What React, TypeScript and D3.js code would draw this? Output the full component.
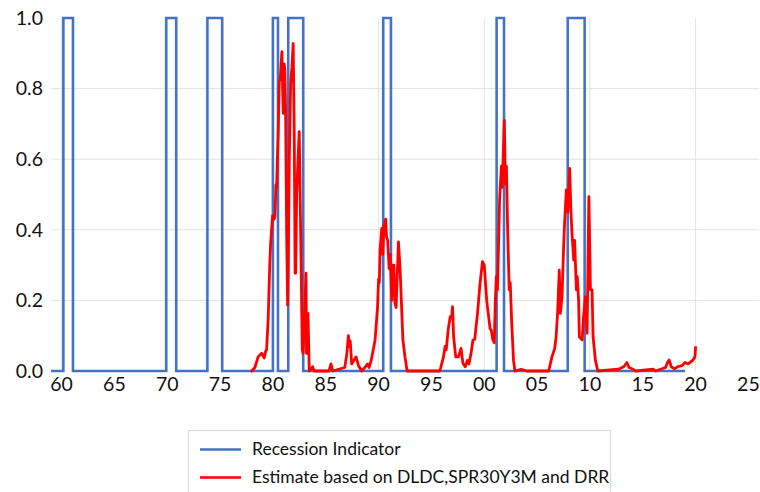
import React from 'react';
import { scaleLinear, line, curveStepAfter, curveLinear, range } from 'd3';

// recession periods, decimal years (start, end)
const recessionStarts = [1960.17, 1969.9, 1973.8, 1980.0, 1981.45, 1990.44, 2001.17, 2007.9];
const recessionEnds = [1961.08, 1970.85, 1975.2, 1980.48, 1982.87, 1991.17, 2001.87, 2009.5];
const seriesStart = 1959.0;
const seriesEnd = 2019.0;

// estimate series [decimal year, probability]
const estimate: [number, number][] = [
  [1977.9, 0], [1978.0, 0], [1978.3, 0.01], [1978.6, 0.04], [1978.93, 0.05], [1979.05, 0.045],
  [1979.18, 0.037], [1979.3, 0.055], [1979.4, 0.06], [1979.55, 0.145], [1979.7, 0.3], [1979.78, 0.36],
  [1979.97, 0.44], [1980.05, 0.44], [1980.12, 0.43], [1980.2, 0.44], [1980.28, 0.527], [1980.35, 0.52],
  [1980.42, 0.6], [1980.5, 0.67], [1980.6, 0.82], [1980.7, 0.83], [1980.85, 0.905], [1980.92, 0.8],
  [1980.98, 0.73], [1981.07, 0.87], [1981.13, 0.85], [1981.2, 0.74], [1981.3, 0.39], [1981.39, 0.187],
  [1981.45, 0.3], [1981.55, 0.6], [1981.68, 0.815], [1981.8, 0.86], [1981.92, 0.928], [1982.02, 0.67],
  [1982.1, 0.277], [1982.15, 0.277], [1982.25, 0.5], [1982.34, 0.57], [1982.49, 0.678], [1982.6, 0.45],
  [1982.78, 0.06], [1982.85, 0.05], [1982.94, 0.1], [1983.05, 0.2], [1983.13, 0.277], [1983.18, 0.05],
  [1983.22, 0.09], [1983.32, 0.163], [1983.44, 0], [1983.6, 0.005], [1983.76, 0.012], [1983.9, 0],
  [1985.3, 0], [1985.5, 0.02], [1985.65, 0], [1986.8, 0.01], [1987.0, 0.05], [1987.14, 0.1],
  [1987.25, 0.07], [1987.32, 0.085], [1987.45, 0.02], [1987.65, 0.03], [1987.87, 0.04], [1988.1, 0.015],
  [1988.4, 0], [1988.7, 0.01], [1988.95, 0.02], [1989.1, 0.01], [1989.3, 0.03], [1989.67, 0.088],
  [1989.9, 0.18], [1990.0, 0.26], [1990.07, 0.25], [1990.14, 0.343], [1990.3, 0.404], [1990.4, 0.33],
  [1990.5, 0.41], [1990.67, 0.43], [1990.75, 0.38], [1990.86, 0.37], [1991.0, 0.29], [1991.1, 0.33],
  [1991.25, 0.2], [1991.35, 0.3], [1991.45, 0.3], [1991.55, 0.19], [1991.66, 0.18], [1991.88, 0.366],
  [1992.04, 0.286], [1992.3, 0.088], [1992.5, 0.04], [1992.7, 0], [1995.8, 0], [1996.14, 0.04],
  [1996.3, 0.07], [1996.4, 0.06], [1996.6, 0.12], [1996.78, 0.154], [1996.9, 0.15], [1997.0, 0.182],
  [1997.1, 0.097], [1997.3, 0.04], [1997.56, 0.04], [1997.8, 0.064], [1997.98, 0.022], [1998.2, 0.012],
  [1998.4, 0.03], [1998.55, 0.02], [1998.75, 0.05], [1998.93, 0.088], [1999.1, 0.09], [1999.36, 0.163],
  [1999.6, 0.248], [1999.83, 0.31], [2000.0, 0.3], [2000.23, 0.2], [2000.45, 0.145], [2000.55, 0.12],
  [2000.66, 0.116], [2000.8, 0.09], [2000.95, 0.08], [2001.05, 0.2], [2001.14, 0.267], [2001.25, 0.23],
  [2001.45, 0.484], [2001.62, 0.58], [2001.7, 0.52], [2001.9, 0.71], [2002.0, 0.53], [2002.1, 0.58],
  [2002.2, 0.42], [2002.36, 0.23], [2002.46, 0.25], [2002.6, 0.135], [2002.77, 0.03], [2002.9, 0],
  [2003.5, 0.005], [2004.0, 0], [2006.1, 0], [2006.4, 0.04], [2006.67, 0.064], [2006.8, 0.097],
  [2006.95, 0.17], [2007.1, 0.286], [2007.2, 0.163], [2007.36, 0.21], [2007.5, 0.343], [2007.6, 0.418],
  [2007.77, 0.513], [2007.9, 0.45], [2008.08, 0.574], [2008.2, 0.456], [2008.3, 0.39], [2008.47, 0.314],
  [2008.55, 0.37], [2008.72, 0.23], [2008.8, 0.267], [2008.93, 0.2], [2009.0, 0.097], [2009.26, 0.088],
  [2009.4, 0.154], [2009.57, 0.21], [2009.73, 0.107], [2009.9, 0.494], [2010.05, 0.23], [2010.2, 0.23],
  [2010.3, 0.097], [2010.52, 0.03], [2010.75, 0], [2012.7, 0.005], [2013.2, 0.012], [2013.5, 0.024],
  [2013.7, 0.01], [2014.1, 0.005], [2014.3, 0], [2016.0, 0.005], [2016.2, 0], [2017.16, 0.01],
  [2017.35, 0.025], [2017.5, 0.031], [2017.7, 0.012], [2018.0, 0.006], [2018.3, 0.012], [2018.7, 0.015],
  [2019.0, 0.024], [2019.3, 0.02], [2019.72, 0.03], [2019.94, 0.04], [2020.0, 0.07],
];

const xTickYears = range(1960, 2026, 5);
const xTickLabels = ['60', '65', '70', '75', '80', '85', '90', '95', '00', '05', '10', '15', '20', '25'];
const yTicks = [0, 0.2, 0.4, 0.6, 0.8, 1.0];
const legendLabels = ['Recession Indicator', 'Estimate based on DLDC,SPR30Y3M and DRR'];

const W = 760;
const H = 492;
const font = 'Lato, "Open Sans", sans-serif';

const App = () => {
  const x = scaleLinear().domain([1959, 2026]).range([51, 759]);
  const y = scaleLinear().domain([0, 1]).range([371, 18]);

  // build the 0/1 step series from the period lists
  const steps: [number, number][] = [[seriesStart, 0]];
  recessionStarts.forEach((s, i) => {
    steps.push([s, 1]);
    steps.push([recessionEnds[i], 0]);
  });
  steps.push([seriesEnd, 0]);

  const stepLine = line<[number, number]>()
    .x(d => x(d[0]))
    .y(d => y(d[1]))
    .curve(curveStepAfter);

  const estLine = line<[number, number]>()
    .x(d => x(d[0]))
    .y(d => y(d[1]))
    .curve(curveLinear);

  return (
    <svg width={W} height={H} style={{ position: 'absolute', left: 0, top: 0 }} fontFamily={font}>
      <rect width={W} height={H} fill="#fff" />
      {yTicks.filter(t => t > 0 && t < 1).map(t => (
        <line key={t} x1={51} x2={759} y1={y(t)} y2={y(t)} stroke="#e3e3e3" strokeWidth={1} />
      ))}
      {[1960, 1970, 1980, 1990, 2000, 2010, 2020].map(t => (
        <line key={t} x1={x(t)} x2={x(t)} y1={18} y2={371} stroke="#e3e3e3" strokeWidth={1} />
      ))}
      {yTicks.map(t => (
        <text key={t} x={43} y={y(t)} dy="0.35em" textAnchor="end" fontSize={19.5} fill="#111">
          {t.toFixed(1)}
        </text>
      ))}
      {xTickYears.map((t, i) => (
        <text key={t} x={x(t)} y={391} textAnchor="middle" fontSize={19.5} fill="#111">
          {xTickLabels[i]}
        </text>
      ))}
      <path d={stepLine(steps) ?? ''} fill="none" stroke="#4472C4" strokeWidth={2.6} />
      <path d={estLine(estimate) ?? ''} fill="none" stroke="#FF0000" strokeWidth={2.8} strokeLinejoin="round" />

      <rect x={188.5} y={430.5} width={422} height={70} fill="#fff" stroke="#d9d9d9" strokeWidth={1} />
      <line x1={200} x2={241} y1={449.5} y2={449.5} stroke="#4472C4" strokeWidth={2.6} />
      <line x1={200} x2={241} y1={477.5} y2={477.5} stroke="#FF0000" strokeWidth={2.6} />
      <text x={252} y={455} fontSize={17.5} fill="#111">{legendLabels[0]}</text>
      <text x={252} y={483} fontSize={17.5} fill="#111">{legendLabels[1]}</text>
    </svg>
  );
};

export default App;
